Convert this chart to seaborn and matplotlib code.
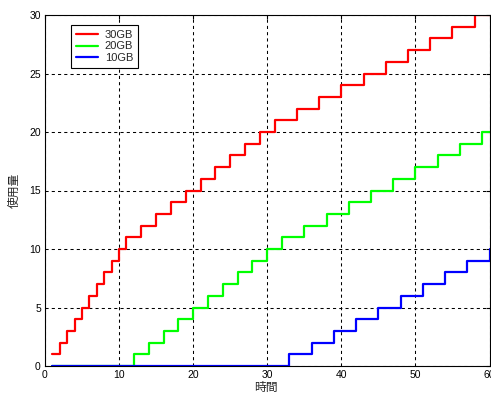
import matplotlib
matplotlib.use("Agg")
import matplotlib.pyplot as plt
import seaborn as sns
import pandas as pd

# ---- data ----
t_30 = [1, 2, 3, 4, 5, 6, 7, 8, 9, 10, 11, 13, 15, 17, 19, 21, 23, 25, 27, 29, 31,
        34, 37, 40, 43, 46, 49, 52, 55, 58, 60]
v_30 = [1, 2, 3, 4, 5, 6, 7, 8, 9, 10, 11, 12, 13, 14, 15, 16, 17, 18, 19, 20, 21,
        22, 23, 24, 25, 26, 27, 28, 29, 30, 30]
t_20 = [1, 12, 14, 16, 18, 20, 22, 24, 26, 28, 30, 32, 35, 38, 41, 44, 47, 50, 53, 56, 59, 60]
v_20 = [0, 1, 2, 3, 4, 5, 6, 7, 8, 9, 10, 11, 12, 13, 14, 15, 16, 17, 18, 19, 20, 20]
t_10 = [1, 33, 36, 39, 42, 45, 48, 51, 54, 57, 60]
v_10 = [0, 1, 2, 3, 4, 5, 6, 7, 8, 9, 10]
series = ["30GB", "20GB", "10GB"]
colors = ["#ff0000", "#00ff00", "#0000ff"]
x_ticks = [0, 10, 20, 30, 40, 50, 60]
y_ticks = [0, 5, 10, 15, 20, 25, 30]
x_label = "時間"
y_label = "使用量"

df = pd.concat([
    pd.DataFrame({"t": t_30, "v": v_30, "s": series[0]}),
    pd.DataFrame({"t": t_20, "v": v_20, "s": series[1]}),
    pd.DataFrame({"t": t_10, "v": v_10, "s": series[2]}),
], ignore_index=True)

sns.set_style("white")
plt.rcParams["font.family"] = ["Liberation Sans", "Noto Sans CJK JP", "DejaVu Sans"]

fig = plt.figure(figsize=(4.91, 3.96), dpi=100)
ax = fig.add_axes([45 / 491, 30 / 396, 444.5 / 491, 351 / 396])

sns.lineplot(data=df, x="t", y="v", hue="s", hue_order=series,
             palette=dict(zip(series, colors)), drawstyle="steps-post",
             estimator=None, sort=False, lw=1.6, ax=ax, legend=False)

ax.set_xlim(0, 60)
ax.set_ylim(0, 30)
ax.set_xticks(x_ticks)
ax.set_yticks(y_ticks)
ax.tick_params(direction="in", length=3, labelsize=7.5, colors="black", pad=3,
               top=True, right=True)
ax.grid(True, color="black", linestyle=(0, (3, 3)), linewidth=0.75)
for sp in ax.spines.values():
    sp.set_color("black")
    sp.set_linewidth(0.8)
    sp.set_visible(True)

ax.set_xlabel(x_label, fontsize=8.5)
ax.set_ylabel(y_label, fontsize=8.5)
ax.xaxis.set_label_coords(0.497, -0.046)
ax.yaxis.set_label_coords(-0.054, 0.5)

from matplotlib.lines import Line2D
handles = [Line2D([], [], color=c, lw=1.6) for c in colors]
leg = ax.legend(handles, series, loc="upper left", bbox_to_anchor=(0.058, 0.972),
                borderaxespad=0, fontsize=8, frameon=True, fancybox=False,
                edgecolor="black", framealpha=1, handlelength=2.0,
                handletextpad=0.6, labelspacing=0.15, borderpad=0.45)
leg.get_frame().set_linewidth(0.8)

fig.savefig("out.png", dpi=100, facecolor="white")
